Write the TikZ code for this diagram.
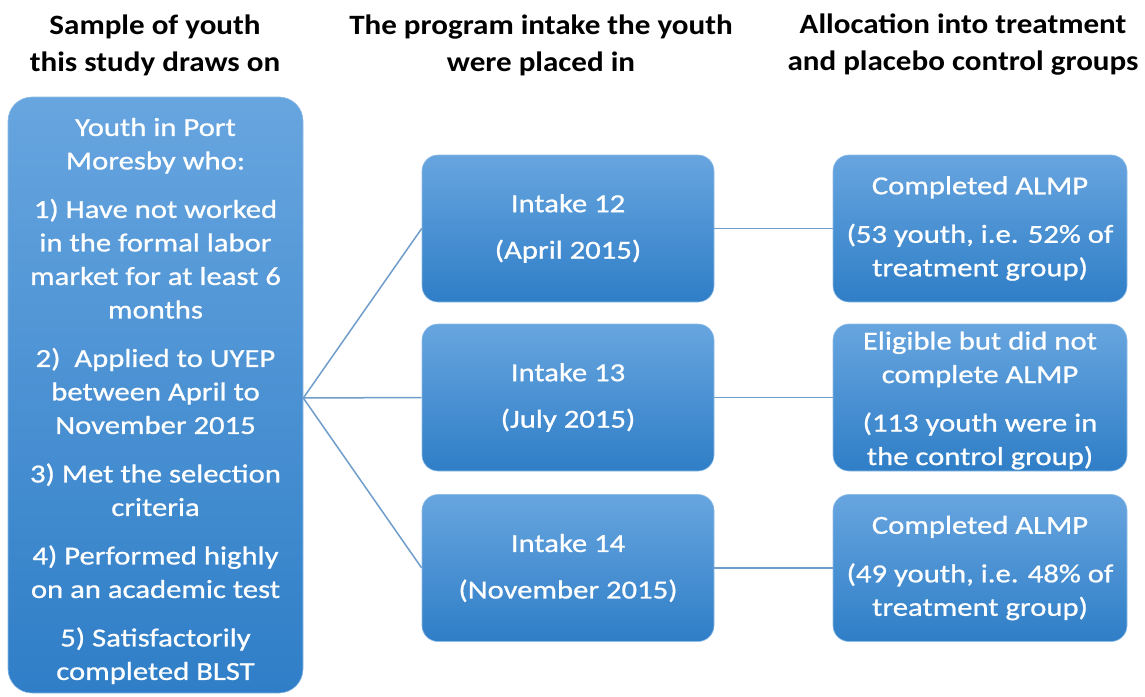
\documentclass[tikz,border=0pt]{standalone}
\usepackage{fontspec}
\setmainfont{Carlito}
\newfontfamily\boxfont{Carlito}[FakeStretch=1.18,FakeBold=0.8]
\newfontfamily\headfont{Carlito}[FakeStretch=1.11]
\definecolor{boxtop}{HTML}{67A5DF}
\definecolor{boxmid}{HTML}{4393DB}
\definecolor{boxbot}{HTML}{2F7EC7}
\definecolor{boxedge}{HTML}{8FBCE6}
\definecolor{linkcol}{HTML}{6F9DCB}
\begin{document}
\begin{tikzpicture}[x=1pt,y=-1pt,
  box/.style={rounded corners=16pt, top color=boxtop, middle color=boxmid,
    bottom color=boxbot, draw=boxedge, line width=0.6pt, text=white,
    align=center, inner sep=0pt, font=\boxfont\fontsize{26}{33.5}\selectfont},
  boxtext/.style={text=white, align=center, inner sep=0pt,
    font=\boxfont\fontsize{26}{33.5}\selectfont},
  midbox/.style={box, minimum width=292pt, minimum height=147pt},
  rightbox/.style={box, minimum width=294pt, minimum height=147pt},
  heading/.style={align=center, inner sep=0pt,
    font=\headfont\fontsize{28}{37}\selectfont\bfseries},
  link/.style={draw=linkcol, line width=1.5pt}]
\useasboundingbox (0,0) rectangle (1145,696);

% column headings
\node[heading] (h1) at (155,45) {Sample of youth\\this study draws on};
\node[heading] (h2) at (541,45) {The program intake the youth\\were placed in};
\node[heading] (h3) at (963,45) {Allocation into treatment\\and placebo control groups};

% eligible sample
\node[box, rounded corners=24pt, minimum width=295pt, minimum height=596pt]
  (sample) at (155.5,395) {};
\node[boxtext] (criteria) at ([yshift=-6pt]sample.center) {Youth in Port\\Moresby who:\\[15pt]
  1) Have not worked\\in the formal labor\\market for at least 6\\months\\[15pt]
  2)\ \ Applied to UYEP\\between April to\\November 2015\\[15pt]
  3) Met the selection\\criteria\\[15pt]
  4) Performed highly\\on an academic test\\[15pt]
  5) Satisfactorily\\completed BLST};

% program intakes
\node[midbox] (i12) at (568,228.5) {Intake 12\\[13pt](April 2015)};
\node[midbox] (i13) at (568,397.5) {Intake 13\\[13pt](July 2015)};
\node[midbox] (i14) at (568,568) {Intake 14\\[13pt](November 2015)};

% allocation groups
\node[rightbox] (g12) at (980,228.5) {Completed ALMP\\[15pt](53 youth, i.e. 52\% of\\treatment group)};
\node[rightbox] (g13) at (980,397.5) {};
\node[boxtext] (g13text) at ([yshift=-3pt]g13.center) {Eligible but did not\\complete ALMP\\[15pt](113 youth were in\\the control group)};
\node[rightbox] (g14) at (980,568) {Completed ALMP\\[15pt](49 youth, i.e. 48\% of\\treatment group)};

% connectors
\coordinate (hub) at ([yshift=-3pt]sample.east);
\draw[link] (hub) -- (i12.west);
\draw[link] (hub) -- (i13.west);
\draw[link] (hub) -- (i14.west);
\draw[link] (i12.east) -- (g12.west);
\draw[link] (i13.east) -- (g13.west);
\draw[link] (i14.east) -- (g14.west);
\end{tikzpicture}
\end{document}
